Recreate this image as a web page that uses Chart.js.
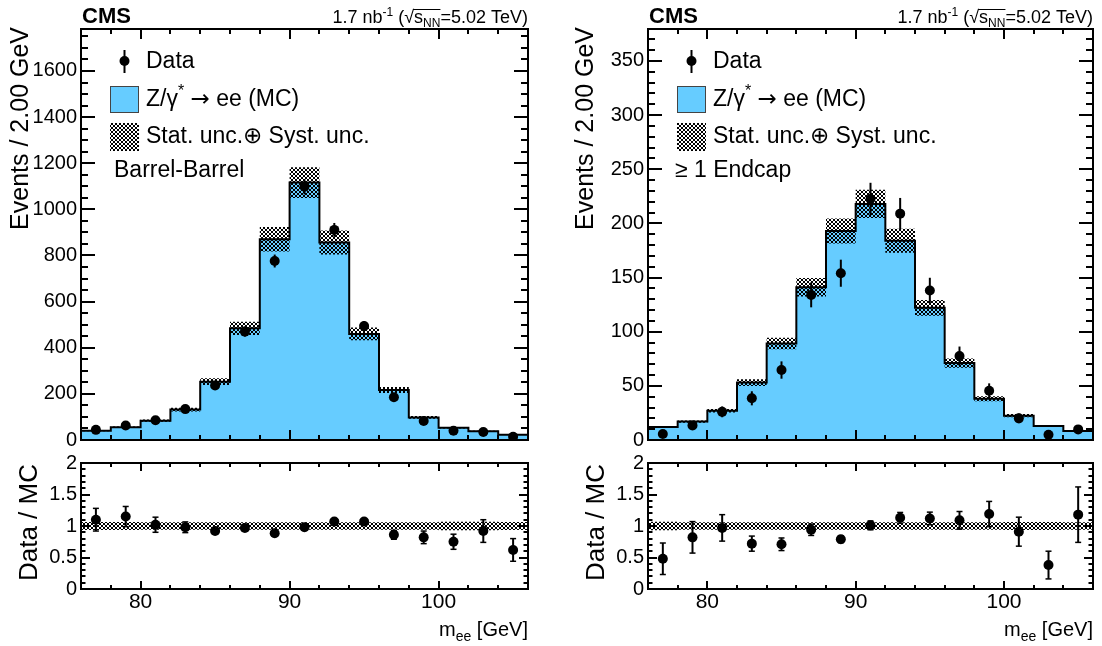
<!DOCTYPE html>
<html><head><meta charset="utf-8">
<script src="https://cdn.jsdelivr.net/npm/chart.js@4"></script>
<style>
body{margin:0;background:#fff;width:1102px;height:646px;overflow:hidden;position:relative}
canvas{position:absolute}
</style></head><body>
<canvas id="c1" width="550" height="452" style="left:0;top:0"></canvas>
<canvas id="c2" width="550" height="194" style="left:0;top:452px"></canvas>
<canvas id="c3" width="552" height="452" style="left:550px;top:0"></canvas>
<canvas id="c4" width="552" height="194" style="left:550px;top:452px"></canvas>
<script>
// ---------------- data ----------------
const xEdges = [76,78,80,82,84,86,88,90,92,94,96,98,100,102,104,106];
const xTickLabels = [80,90,100];
const bbYTicks = [0,200,400,600,800,1000,1200,1400,1600];
const ecYTicks = [0,50,100,150,200,250,300,350];
const ratioYTicks = [0,0.5,1,1.5,2];

// Barrel-Barrel
const bbMC      = [40,55,84,132,253,484,870,1116,856,460,217,98,53,38,23];
const bbMCUnc   = [2.5,3.5,5,8,15,29,53,67,52,28,13,6,3.5,2.5,1.5];
const bbData    = [44,63,86,134,236,470,776,1098,911,494,185,82,40,35,14];
const bbDataErr = [7,8,9,12,15,22,28,33,30,22,14,9,6,6,4];
const bbRatio   = [1.10,1.15,1.02,0.98,0.92,0.97,0.885,0.98,1.07,1.07,0.86,0.82,0.75,0.92,0.62];
const bbRatioErr= [0.18,0.16,0.12,0.085,0.04,0.035,0.03,0.025,0.035,0.045,0.07,0.1,0.12,0.18,0.18];

// >= 1 Endcap
const ecMC      = [12,17,27,53,89,141,193,218,184,122,71,38,22.5,13,8.3];
const ecMCUnc   = [0.8,1,1.6,3.2,5.3,8.5,11.6,13,11,7.3,4.3,2.3,1.4,0.8,0.5];
const ecData    = [5.5,13.5,26,38.5,64.6,134,154,222.5,209,138,77.5,45.5,20,4.8,9.8];
const ecDataErr = [2.5,4,5,6.5,8,11.5,12.5,15,14.5,11.8,8.8,6.8,4.5,2.2,3.2];
const ecRatio   = [0.48,0.82,0.97,0.72,0.71,0.94,0.79,1.01,1.13,1.12,1.09,1.19,0.91,0.38,1.18];
const ecRatioErr= [0.25,0.25,0.21,0.12,0.1,0.09,0.055,0.07,0.085,0.1,0.14,0.2,0.23,0.22,0.44];

// ---------------- helpers ----------------
const FONT = '"Liberation Sans", Arial, Helvetica, sans-serif';
const BLUE = '#66ccff';
const centers = xEdges.slice(0,-1).map((e,i)=>(e+xEdges[i+1])/2);
function hist(vals){
  const pts=[];
  vals.forEach((v,i)=>{pts.push({x:xEdges[i],y:v});pts.push({x:xEdges[i+1],y:v});});
  return pts;
}
function makePattern(){
  const c=document.createElement('canvas'); c.width=4; c.height=4;
  const g=c.getContext('2d'); g.fillStyle='#000';
  [[0,0],[1,1],[2,2],[3,3],[3,0],[2,1],[1,2],[0,3]].forEach(([a,b])=>g.fillRect(a,b,1,1));
  return g.createPattern(c,'repeat');
}
const PAT = makePattern();
function fnt(s){return (s.bold?'bold ':'')+s.size+'px '+(s.fam||FONT);}
function rich(ctx, segs, x, y, align){
  let w=0;
  segs.forEach(s=>{ctx.font=fnt(s); s.w=ctx.measureText(s.t).width; w+=s.w;});
  let cx = align==='right' ? x-w : x;
  segs.forEach(s=>{ctx.font=fnt(s); ctx.fillText(s.t,cx,y+(s.dy||0)); s.x=cx; cx+=s.w;});
  return segs;
}
function line(ctx,x1,y1,x2,y2){ctx.beginPath();ctx.moveTo(x1,y1);ctx.lineTo(x2,y2);ctx.stroke();}
function noPad(s){s.paddingTop=0;s.paddingBottom=0;s.paddingLeft=0;s.paddingRight=0;}

function drawFrame(chart, t){
  const {ctx, chartArea:a, scales:{x,y}} = chart;
  ctx.save();
  ctx.strokeStyle='#000'; ctx.lineWidth=2;
  const xmin=x.min, xmax=x.max;
  for(let n=Math.ceil(xmin/t.xMinor-1e-9); n*t.xMinor<=xmax+1e-9; n++){
    const v=n*t.xMinor, px=Math.round(x.getPixelForValue(v));
    const maj=Math.abs(v/t.xMajor-Math.round(v/t.xMajor))<1e-6;
    const L=maj?t.xMaj:t.xMin;
    line(ctx,px,a.bottom,px,a.bottom-L); line(ctx,px,a.top,px,a.top+L);
  }
  for(let n=Math.ceil(y.min/t.yMinor-1e-9); n*t.yMinor<=y.max+1e-9; n++){
    const v=n*t.yMinor, py=Math.round(y.getPixelForValue(v));
    const maj=Math.abs(v/t.yMajor-Math.round(v/t.yMajor))<1e-6;
    const L=maj?t.yMaj:t.yMin;
    line(ctx,a.left,py,a.left+L,py); line(ctx,a.right,py,a.right-L,py);
  }
  ctx.strokeRect(a.left,a.top,a.right-a.left,a.bottom-a.top);
  ctx.restore();
}
function drawErrors(chart, vals, errs, cap){
  const {ctx, chartArea:a, scales:{x,y}} = chart;
  ctx.save();
  ctx.beginPath(); ctx.rect(a.left,a.top,a.right-a.left,a.bottom-a.top); ctx.clip();
  ctx.strokeStyle='#000'; ctx.lineWidth=2;
  centers.forEach((c,i)=>{
    const px=x.getPixelForValue(c);
    const y1=y.getPixelForValue(vals[i]-errs[i]), y2=y.getPixelForValue(vals[i]+errs[i]);
    line(ctx,px,y1,px,y2);
    if(cap){ctx.lineWidth=1.5; line(ctx,px-cap,y1,px+cap,y1); line(ctx,px-cap,y2,px+cap,y2); ctx.lineWidth=2;}
  });
  ctx.restore();
}

// ---------------- main panels ----------------
function mainChart(id, cfg){
  const up = cfg.mc.map((v,i)=>v+cfg.unc[i]);
  const lo = cfg.mc.map((v,i)=>v-cfg.unc[i]);
  const deco = {
    id:'deco'+id,
    afterDatasetsDraw(chart){ drawErrors(chart, cfg.data, cfg.err, 0); },
    afterDraw(chart){
      const {ctx, chartArea:a} = chart;
      drawFrame(chart,{xMajor:10,xMinor:2,xMaj:10,xMin:5,yMajor:cfg.yMajor,yMinor:cfg.yMinor,yMaj:14,yMin:7});
      ctx.save(); ctx.fillStyle='#000'; ctx.textBaseline='alphabetic';
      // header
      rich(ctx,[{t:'CMS',size:22,bold:true}],a.left+1,23,'left');
      const segs = rich(ctx,[
        {t:'1.7 nb',size:18},{t:'-1',size:12,dy:-7},{t:' (',size:18},{t:'\u221A',size:18},
        {t:'s',size:18},{t:'NN',size:12,dy:4},{t:'=5.02 TeV)',size:18}],a.right,23,'right');
      ctx.strokeStyle='#000'; ctx.lineWidth=1;
      line(ctx,segs[3].x+segs[3].w-1,9.5,segs[5].x+segs[5].w,9.5);
      // y title
      ctx.save(); ctx.translate(a.left+cfg.titleDx, a.top-2); ctx.rotate(-Math.PI/2);
      ctx.textAlign='right'; ctx.textBaseline='middle'; ctx.font='25px '+FONT;
      ctx.fillText('Events / 2.00 GeV',0,0); ctx.restore();
      // legend
      const L=a.left;
      ctx.beginPath(); ctx.arc(L+43.5,61,5,0,2*Math.PI); ctx.fill();
      ctx.lineWidth=2; line(ctx,L+43.5,50,L+43.5,73);
      ctx.fillStyle=BLUE; ctx.fillRect(L+29,86,29,27);
      ctx.strokeStyle='#444'; ctx.lineWidth=1; ctx.strokeRect(L+29.5,86.5,28,26);
      ctx.fillStyle=PAT; ctx.fillRect(L+29,123,29,28);
      ctx.fillStyle='#000'; ctx.textBaseline='middle'; ctx.textAlign='left';
      rich(ctx,[{t:'Data',size:23}],L+65,62,'left');
      rich(ctx,[{t:'Z/\u03B3',size:23},{t:'*',size:16,dy:-8},{t:' ',size:23},
                {t:'\u2192',size:23,fam:'"DejaVu Sans"'},{t:' ee (MC)',size:23}],L+65,100,'left');
      rich(ctx,[{t:'Stat. unc.\u2295 Syst. unc.',size:23}],L+65,137,'left');
      rich(ctx,[{t:cfg.label,size:23}],L+cfg.labelDx,171,'left');
      ctx.restore();
    }
  };
  return new Chart(document.getElementById(id),{
    type:'line',
    data:{datasets:[
      {type:'scatter',data:centers.map((c,i)=>({x:c,y:cfg.data[i]})),pointRadius:5,pointBackgroundColor:'#000',pointBorderWidth:0,order:0},
      {data:hist(cfg.mc),borderColor:'#000',borderWidth:2,pointRadius:0,fill:false,order:1},
      {data:hist(up),borderColor:'rgba(0,0,0,0)',borderWidth:0,pointRadius:0,fill:'+1',backgroundColor:PAT,order:2},
      {data:hist(lo),borderColor:'rgba(0,0,0,0)',borderWidth:0,pointRadius:0,fill:false,order:2},
      {data:hist(cfg.mc),borderColor:'rgba(0,0,0,0)',borderWidth:0,pointRadius:0,fill:'origin',backgroundColor:BLUE,order:3}
    ]},
    options:{
      responsive:false, animation:false, devicePixelRatio:1, events:[],
      layout:{padding:{top:29,right:cfg.padRight,bottom:12,left:0}},
      plugins:{legend:{display:false},tooltip:{enabled:false}},
      scales:{
        x:{type:'linear',min:76,max:106,display:false},
        y:{type:'linear',min:0,max:cfg.ymax,
           grid:{display:false,drawTicks:false},border:{display:false},
           ticks:{font:{size:20,family:FONT},color:'#000',padding:4,includeBounds:false,callback:v=>String(v)},
           afterBuildTicks:s=>{s.ticks=cfg.yTicks.map(v=>({value:v}));},
           afterFit:s=>{s.width=cfg.yWidth; noPad(s);}}
      }
    },
    plugins:[deco]
  });
}

// ---------------- ratio panels ----------------
function ratioChart(id, cfg){
  const rel = cfg.mc.map((v,i)=>cfg.unc[i]/v);
  const deco = {
    id:'rdeco'+id,
    afterDatasetsDraw(chart){ drawErrors(chart, cfg.ratio, cfg.err, 3); },
    afterDraw(chart){
      const {ctx, chartArea:a} = chart;
      drawFrame(chart,{xMajor:10,xMinor:2,xMaj:8,xMin:4,yMajor:0.5,yMinor:0.1,yMaj:9,yMin:4.5});
      ctx.save(); ctx.fillStyle='#000';
      ctx.save(); ctx.translate(a.left+cfg.titleDx, a.top+1); ctx.rotate(-Math.PI/2);
      ctx.textAlign='right'; ctx.textBaseline='middle'; ctx.font='26px '+FONT;
      ctx.fillText('Data / MC',0,0); ctx.restore();
      ctx.textBaseline='alphabetic';
      rich(ctx,[{t:'m',size:20},{t:'ee',size:14,dy:5},{t:' [GeV]',size:20}],a.right,184,'right');
      ctx.restore();
    }
  };
  return new Chart(document.getElementById(id),{
    type:'line',
    data:{datasets:[
      {type:'scatter',data:centers.map((c,i)=>({x:c,y:cfg.ratio[i]})),pointRadius:5,pointBackgroundColor:'#000',pointBorderWidth:0,order:0},
      {data:hist(rel.map(r=>1+r)),borderColor:'rgba(0,0,0,0)',borderWidth:0,pointRadius:0,fill:'+1',backgroundColor:PAT,order:1},
      {data:hist(rel.map(r=>1-r)),borderColor:'rgba(0,0,0,0)',borderWidth:0,pointRadius:0,fill:false,order:1}
    ]},
    options:{
      responsive:false, animation:false, devicePixelRatio:1, events:[],
      layout:{padding:{top:11,right:cfg.padRight,bottom:0,left:0}},
      plugins:{legend:{display:false},tooltip:{enabled:false}},
      scales:{
        x:{type:'linear',min:76,max:106,
           grid:{display:false,drawTicks:false},border:{display:false},
           ticks:{font:{size:21,family:FONT},color:'#000',padding:1,maxRotation:0,includeBounds:false,callback:v=>String(v)},
           afterBuildTicks:s=>{s.ticks=xTickLabels.map(v=>({value:v}));},
           afterFit:s=>{s.height=57; noPad(s);}},
        y:{type:'linear',min:0,max:2,
           grid:{display:false,drawTicks:false},border:{display:false},
           ticks:{font:{size:20,family:FONT},color:'#000',padding:4,includeBounds:false,callback:v=>String(v)},
           afterBuildTicks:s=>{s.ticks=ratioYTicks.map(v=>({value:v}));},
           afterFit:s=>{s.width=cfg.yWidth; noPad(s);}}
      }
    },
    plugins:[deco]
  });
}

mainChart('c1',{mc:bbMC,unc:bbMCUnc,data:bbData,err:bbDataErr,ymax:1782,yTicks:bbYTicks,yMajor:200,yMinor:50,
  yWidth:81,padRight:22,titleDx:-60,label:'Barrel-Barrel',labelDx:33});
ratioChart('c2',{mc:bbMC,unc:bbMCUnc,ratio:bbRatio,err:bbRatioErr,yWidth:81,padRight:22,titleDx:-51});
mainChart('c3',{mc:ecMC,unc:ecMCUnc,data:ecData,err:ecDataErr,ymax:379.5,yTicks:ecYTicks,yMajor:50,yMinor:10,
  yWidth:98,padRight:9,titleDx:-62,label:'\u2265 1 Endcap',labelDx:27});
ratioChart('c4',{mc:ecMC,unc:ecMCUnc,ratio:ecRatio,err:ecRatioErr,yWidth:98,padRight:9,titleDx:-51});
</script>
</body></html>
